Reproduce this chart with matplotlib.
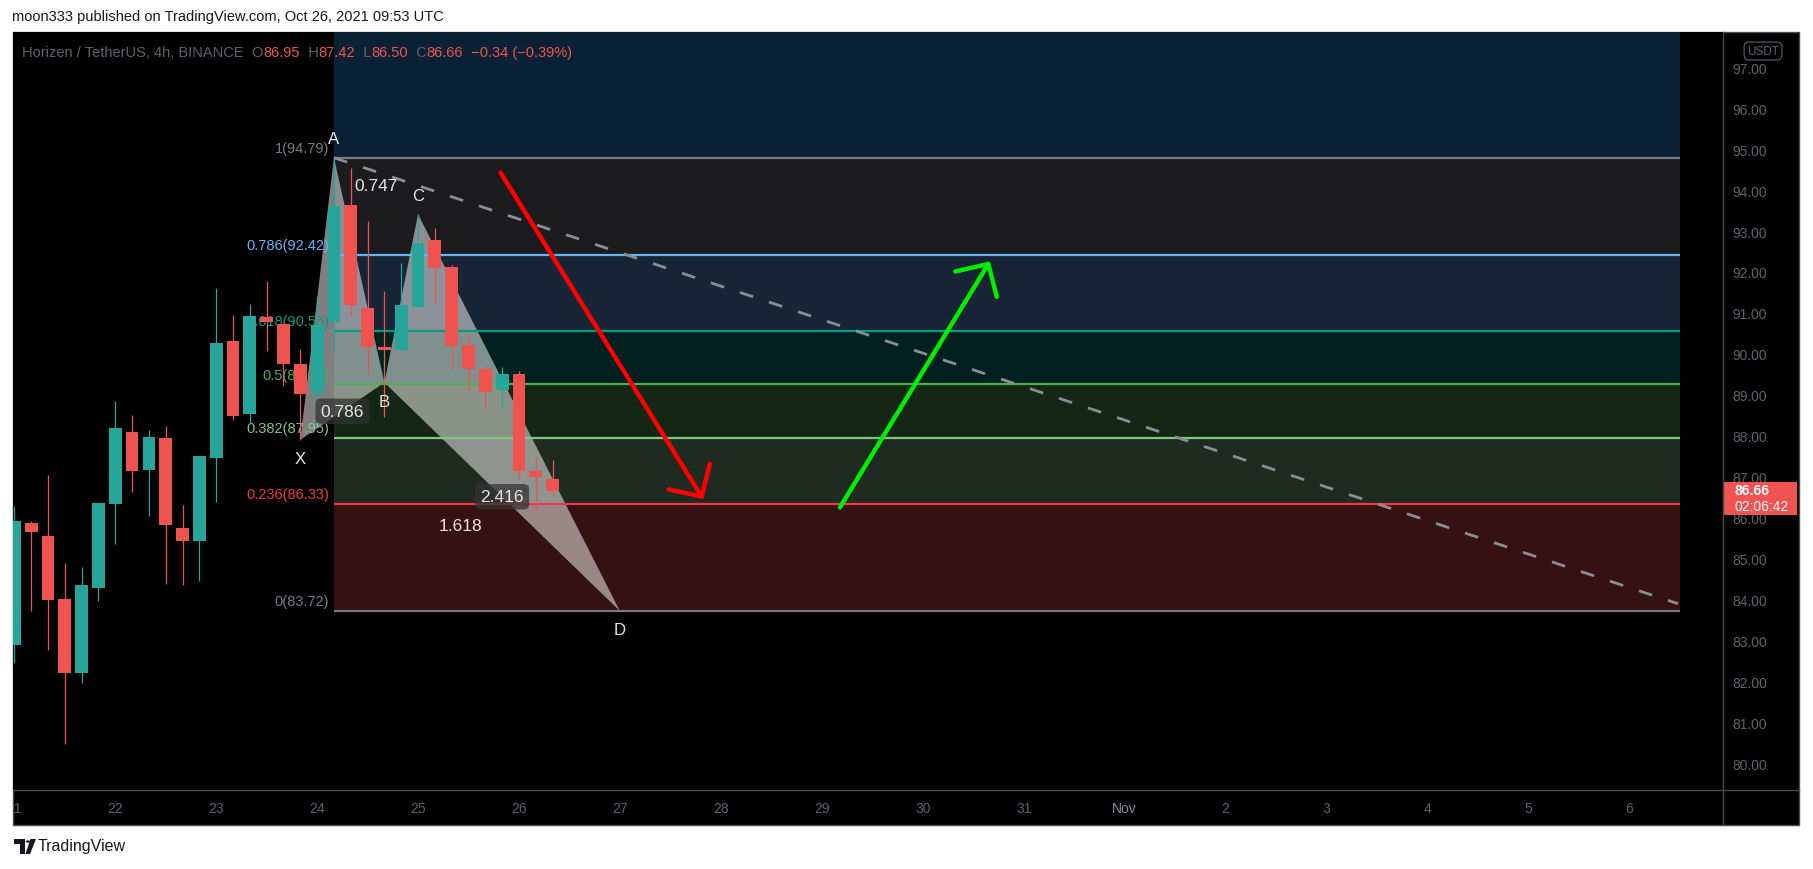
import numpy as np
import matplotlib.pyplot as plt
import matplotlib.transforms as mtransforms
from matplotlib.patches import Rectangle, Polygon, Circle

# ---- data ---------------------------------------------------------------
# ZEN/USDT 4h candles (Binance), index 0 = Oct 21 00:00 UTC
opens = [82.90, 85.87, 85.55, 84.01, 82.21, 84.29, 86.34, 88.09, 87.17, 87.94,
         85.74, 85.43, 87.46, 90.31, 88.53, 90.89, 90.73, 89.75, 89.04, 90.78,
         93.63, 91.12, 90.18, 90.10, 91.15, 92.78, 92.12, 90.21, 89.64, 89.11,
         89.50, 87.15, 86.95]
highs = [86.28, 85.92, 87.04, 84.89, 84.79, 86.37, 88.85, 88.50, 88.14, 88.24,
         86.31, 87.50, 91.61, 90.95, 91.22, 91.78, 90.75, 90.13, 91.42, 94.79,
         94.55, 93.25, 91.53, 92.21, 93.41, 93.07, 92.18, 90.51, 89.71, 89.69,
         89.59, 87.47, 87.42]
lows = [82.46, 83.73, 82.77, 80.48, 81.97, 83.97, 85.36, 86.63, 86.05, 84.38,
        84.36, 84.46, 86.39, 88.39, 88.29, 90.08, 89.22, 87.90, 88.60, 90.05,
        90.93, 89.51, 88.46, 90.10, 91.15, 91.24, 89.64, 89.12, 88.69, 88.65,
        86.98, 86.17, 86.50]
closes = [85.92, 85.65, 83.99, 82.21, 84.35, 86.36, 88.19, 87.14, 87.97, 85.83,
          85.43, 87.50, 90.26, 88.49, 90.92, 90.79, 89.76, 89.02, 90.70, 93.61,
          91.20, 90.17, 90.10, 91.20, 92.71, 92.09, 90.20, 89.64, 89.06, 89.50,
          87.15, 87.00, 86.66]

day_ticks = list(range(0, 97, 6))
day_labels = ['21', '22', '23', '24', '25', '26', '27', '28', '29', '30', '31',
              'Nov', '2', '3', '4', '5', '6']
price_ticks = list(range(80, 98))

# Fibonacci retracement
fib_low, fib_high = 83.72, 94.79
fib_ratios = [0, 0.236, 0.382, 0.5, 0.618, 0.786, 1, 1.618]
fib_start, fib_end = 19, 99.0
fib_line_colors = ['#787b86', '#f23645', '#81c784', '#4caf50', '#089981',
                   '#64b5f6', '#787b86', None]
fib_band_colors = ['#361111', '#1f2a20', '#132714', '#012120', '#172536',
                   '#1c1c1f', '#0b2236']

# XABCD pattern
pattern_names = ['X', 'A', 'B', 'C', 'D']
pattern_t = [17, 19, 22, 24, 36]
pattern_p = [87.90, 94.79, 89.30, 93.41, 83.72]
pattern_ratios = [('X', 'B', '0.786', True), ('A', 'C', '0.747', False),
                  ('B', 'D', '2.416', True), ('X', 'D', '1.618', False)]

# dashed trend line and the two arrows
trend_t = [19, 98.9]
trend_p = [94.79, 83.90]
down_arrow_t = [28.9, 40.96]
down_arrow_p = [94.43, 86.45]
up_arrow_t = [49.08, 58.0]
up_arrow_p = [86.25, 92.26]

countdown = '02:06:42'
title = 'moon333 published on TradingView.com, Oct 26, 2021 09:53 UTC'
symbol = 'Horizen / TetherUS, 4h, BINANCE'

# ---- figure -------------------------------------------------------------
W, H, DPI = 1813, 870, 100
plt.rcParams['font.family'] = ['Liberation Sans', 'DejaVu Sans']
fig = plt.figure(figsize=(W / DPI, H / DPI), dpi=DPI, facecolor='white')


def fx(px):
    return px / W


def fy(py):
    return 1 - py / H


GRAY = '#5f626b'
RED = '#f05350'
ax_l, ax_r, ax_t, ax_b = 12.5, 1723, 33, 791
ymin, ymax = 79.35, 97.86

fig.add_artist(Rectangle((fx(ax_l), fy(826)), fx(1799) - fx(ax_l), fy(33) - fy(826),
                         transform=fig.transFigure, fc='black', ec='#4a4a4a',
                         lw=1, zorder=-1))

ax = fig.add_axes([fx(ax_l), fy(ax_b), fx(ax_r) - fx(ax_l), fy(ax_t) - fy(ax_b)])
ax.set_facecolor('black')
ax.set_xlim(-0.11, 101.58)
ax.set_ylim(ymin, ymax)
for s in ax.spines.values():
    s.set_visible(False)

# fib bands, lines and labels
fib_prices = [fib_low + r * (fib_high - fib_low) for r in fib_ratios]
for i in range(len(fib_ratios) - 1):
    ax.fill_between([fib_start, fib_end], fib_prices[i], fib_prices[i + 1],
                    color=fib_band_colors[i], lw=0, zorder=0.5)
for r, p, col in zip(fib_ratios, fib_prices, fib_line_colors):
    if col is None:
        continue
    ax.plot([fib_start, fib_end], [p, p], color=col, lw=1.6, zorder=1.5,
            solid_capstyle='butt')
    ax.annotate(f'{r:g}({p + 1e-9:.2f})', xy=(fib_start, p), xytext=(-3.5, 7),
                textcoords='offset points', ha='right', va='center', color=col,
                fontsize=10.5, zorder=2)

# pattern triangles
P = dict(zip(pattern_names, zip(pattern_t, pattern_p)))
for tri in (['X', 'A', 'B'], ['B', 'C', 'D']):
    ax.add_patch(Polygon([P[k] for k in tri], closed=True, fc='white',
                         alpha=0.5, lw=0, zorder=1))

# candles
t = np.arange(len(opens))
o, h, l, c = map(np.array, (opens, highs, lows, closes))
colors = np.where(c >= o, '#26a69a', '#ef5350')
ax.vlines(t, l, h, colors=colors, lw=0.9, zorder=3)
ax.bar(t, np.maximum(np.abs(c - o), 0.05), bottom=np.minimum(o, c), width=0.76,
       color=colors, lw=0, zorder=3.1)

# trend line
ax.plot(trend_t, trend_p, color='#8a8d96', lw=2, ls=(0, (5, 6)), zorder=3.5)

# pattern point labels
for i, name in enumerate(pattern_names):
    nb = pattern_p[i + 1] if i == 0 else pattern_p[i - 1]
    up = pattern_p[i] > nb
    ax.annotate(name, xy=P[name], xytext=(0, 13.5 if up else -13.5),
                textcoords='offset points', ha='center', va='center',
                color='#e6e6e6', fontsize=12, zorder=4.5)

# ratio labels
for a, b, txt, boxed in pattern_ratios:
    mt = (P[a][0] + P[b][0]) / 2
    mp = (P[a][1] + P[b][1]) / 2
    kw = {}
    if boxed:
        kw['bbox'] = dict(boxstyle='round,pad=0.3,rounding_size=0.3',
                          fc='#333333', ec='none', alpha=0.75)
    ax.text(mt, mp, txt, ha='center', va='center', color='#e6e6e6',
            fontsize=12.5, zorder=4.5, **kw)

# arrows
for at, ap, col in [(down_arrow_t, down_arrow_p, '#ff0000'),
                    (up_arrow_t, up_arrow_p, '#00ee00')]:
    ax.annotate('', xy=(at[1], ap[1]), xytext=(at[0], ap[0]),
                arrowprops=dict(arrowstyle='->,head_length=17,head_width=17.5',
                                mutation_scale=1, color=col, lw=3.2,
                                shrinkA=0, shrinkB=0),
                zorder=5)

# axes ticks
ax.yaxis.tick_right()
ax.set_yticks(price_ticks, [f'{v:.2f}' for v in price_ticks])
ax.tick_params(axis='y', length=0, pad=6.5, labelsize=10, labelcolor=GRAY)
ax.set_xticks(day_ticks, day_labels)
ax.tick_params(axis='x', length=0, pad=8, labelsize=10, labelcolor=GRAY)
clip_rect = Rectangle((fx(ax_l), fy(826)), fx(ax_r) - fx(ax_l), fy(791) - fy(826),
                      transform=fig.transFigure)
for lbl in ax.get_xticklabels():
    lbl.set_clip_path(clip_rect)
    lbl.set_clip_on(True)
    if lbl.get_text() == 'Nov':
        lbl.set_color('#8a8d96')

# separators
fig.add_artist(plt.Line2D([fx(ax_r)] * 2, [fy(33), fy(826)], color='#4a4a4a',
                          lw=1, transform=fig.transFigure, zorder=5))
fig.add_artist(plt.Line2D([fx(ax_l), fx(1799)], [fy(ax_b)] * 2, color='#4a4a4a',
                          lw=1, transform=fig.transFigure, zorder=5))

# last price box
last = closes[-1]
trans = mtransforms.blended_transform_factory(ax.transAxes, ax.transData)
ax_w_px = ax_r - ax_l
ppx = (ymax - ymin) / (ax_b - ax_t)
ax.add_patch(Rectangle((1.0, last - 24.5 * ppx), 74 / ax_w_px, 33 * ppx,
                       transform=trans, fc=RED, lw=0, clip_on=False, zorder=10))
ax.text(1 + 12 / ax_w_px, last + 0.5 * ppx, f'{last:.2f}', transform=trans,
        color='white', fontsize=10, fontweight='bold', va='center',
        clip_on=False, zorder=11)
ax.text(1 + 12 / ax_w_px, last - 15.5 * ppx, countdown, transform=trans,
        color='white', fontsize=10, va='center', clip_on=False, zorder=11)

# USDT badge
fig.text(fx(1763), fy(52), 'USDT', ha='center', va='center', color=GRAY,
         fontsize=8.5, zorder=6,
         bbox=dict(boxstyle='round,pad=0.25,rounding_size=0.4', fc='black',
                   ec=GRAY, lw=0.8))

# legend line (OHLC)
chg = closes[-1] - closes[-2]
pct = chg / closes[-2] * 100
parts = [(symbol + '  ', GRAY), ('O', GRAY), (f'{opens[-1]:.2f}', RED),
         ('  H', GRAY), (f'{highs[-1]:.2f}', RED), ('  L', GRAY),
         (f'{lows[-1]:.2f}', RED), ('  C', GRAY), (f'{closes[-1]:.2f}', RED),
         (f'  {chg:.2f} ({pct:.2f}%)'.replace('-', '\u2212'), RED)]
prev = ax.text((22 - ax_l) / ax_w_px, (ax_b - 53) / (ax_b - ax_t), parts[0][0],
               transform=ax.transAxes, color=parts[0][1], fontsize=10.5,
               va='center', zorder=6)
for s, col in parts[1:]:
    prev = ax.annotate(s, xy=(1, 0), xycoords=prev, va='bottom', ha='left',
                       color=col, fontsize=10.5, zorder=6)

# header and footer
fig.text(fx(12), fy(17), title, va='center', ha='left', fontsize=10.5,
         color='#131722')
fig.text(fx(38), fy(847), 'TradingView', va='center', ha='left', fontsize=11.5,
         color='#131722')
logo = [Polygon([(fx(14), fy(840)), (fx(25), fy(840)), (fx(25), fy(855)),
                 (fx(20), fy(855)), (fx(20), fy(845)), (fx(14), fy(845))],
                closed=True, transform=fig.transFigure, fc='#131722', lw=0),
        Circle((fx(28), fy(842.5)), 2.3 / W, transform=fig.transFigure,
               fc='#131722', lw=0),
        Polygon([(fx(30.5), fy(840)), (fx(36), fy(840)), (fx(30), fy(855)),
                 (fx(25.5), fy(855))], closed=True, transform=fig.transFigure,
                fc='#131722', lw=0)]
for p in logo:
    fig.add_artist(p)

fig.savefig('out.png', dpi=DPI, facecolor='white')
